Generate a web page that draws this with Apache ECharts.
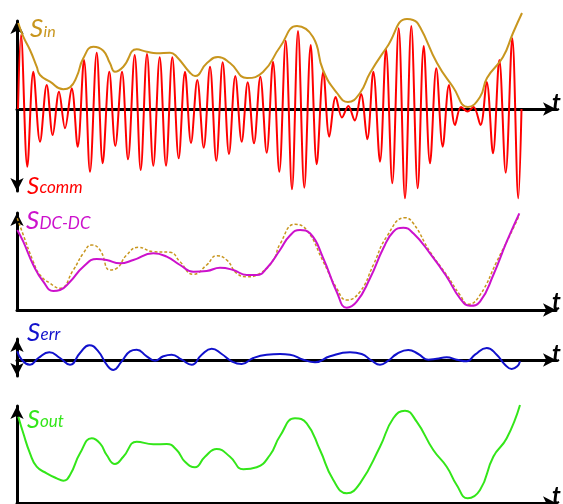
<!DOCTYPE html>
<html>
<head>
<meta charset="utf-8">
<script src="https://cdn.jsdelivr.net/npm/echarts@6/dist/echarts.min.js"></script>
<style>
  html, body { margin: 0; padding: 0; background: #fff; }
  #chart { width: 563px; height: 504px; }
</style>
</head>
<body>
<div id="chart"></div>
<script>
// [t, value] pairs (t runs left to right along each time axis)
const commSignal = [
  [1, 0], [4, 74], [10.3, -57.7], [16.3, 37.3], [23, -32.7], [29.7, 24], [35.7, -26], [42, 17.3],
  [48, -19.3], [54.7, 20.7], [60.7, -37.7], [67, 49], [73, -62.7], [79.7, 56.3], [85.7, -54.3],
  [92.3, 37.3], [98.3, -37], [105, 37.3], [111, -50.3], [117.7, 54], [123.7, -61], [130, 55],
  [136.3, -56.7], [142.7, 51.7], [149, -56.7], [155.3, 51.7], [161.7, -49.3], [168, 37.3],
  [174, -34], [180.3, 29], [186.7, -38.7], [193, 42.3], [199.3, -51.7], [205.7, 46.7], [212, -45],
  [218.3, 33], [224.7, -32.7], [230.7, 26.7], [237, -34.3], [243.3, 32.3], [249.7, -43.7],
  [256, 47.3], [262.3, -62.7], [268.7, 68.3], [275, -80.3], [281, 78], [287.3, -78.7], [293.7, 64],
  [299.7, -55.3], [306.3, 37.3], [312.3, -27.7], [318.7, 12], [325, -8.5], [331.3, 3],
  [337.7, -11.5], [344, 15], [350.3, -30.3], [356.3, 37.3], [363, -52.7], [369, 59.7],
  [375.3, -74.3], [381.7, 80.7], [388, -89.3], [394.3, 83], [400.7, -79.3], [406.7, 63],
  [413, -54.3], [419.3, 40.7], [425.7, -37.7], [432, 24], [438, -16], [444, 2], [450.5, -2.5],
  [456.5, 2], [463.5, -16], [469.7, 27], [476, -44.3], [482.3, 49], [488.7, -63.7], [495.3, 70.7],
  [501.3, -89.3], [504.5, 0]
]

const inEnvelope = [
  [1.3, 86], [6.3, 72.3], [13, 59], [19.7, 42.3], [23, 34], [33, 27.3], [46.3, 19.7], [53, 21.7],
  [59.7, 32.3], [66.3, 50.7], [76.3, 62.3], [86.3, 58.3], [93, 45.7], [98, 37.3], [106.3, 42.3],
  [119.7, 59.7], [129.7, 57.3], [139.7, 55.7], [153, 56.3], [159.7, 52.3], [173, 36.3], [178, 33],
  [190, 46], [201, 52], [213, 46], [230, 31], [246, 37], [263, 62], [280, 83], [296, 72],
  [306, 39], [320, 16], [331, 7], [343, 16], [353, 36], [370, 62], [390, 90], [396, 89],
  [403, 82], [420, 46], [436, 22], [451, 2], [463, 12], [470, 31], [486, 52], [496, 76], [505, 96]
]

const dcdcSignal = [
  [0.3, 80], [6.3, 68.3], [16.3, 45], [26.3, 28.3], [36.3, 19], [43, 20], [53, 28.3], [66.3, 43.3],
  [79.7, 51], [89.7, 50], [103, 46.7], [116.3, 50], [136.3, 56.7], [149.7, 53.3], [163, 45],
  [176.3, 38.3], [189.7, 39], [203, 42.3], [216.3, 40], [229.7, 35], [239.7, 35], [249.7, 41.7],
  [263, 60], [273, 74.5], [283, 80], [293, 76.7], [306.3, 51.7], [319.7, 18.3], [329.7, 2.3],
  [339.7, 8.3], [353, 31.7], [366.3, 61.7], [376.3, 78.3], [386.3, 82.3], [396.3, 76.7],
  [413, 56.7], [429.7, 33.3], [443, 11.7], [453, 4.3], [463, 8.3], [476.3, 35], [489.7, 68.3],
  [502.3, 96.7]
]

const dcdcReference = [
  [0.3, 91.7], [6.3, 75], [16.3, 48.3], [23, 35], [33, 26.7], [43, 21.7], [56.3, 40], [66.3, 56.7],
  [74.7, 65], [83, 60], [93, 40], [99.7, 41.7], [109.7, 55], [121.3, 62.7], [136.3, 58.3],
  [153, 57.7], [163, 48.3], [176.3, 35.7], [189.7, 45], [199.7, 54.3], [209.7, 50], [219.7, 36.7],
  [229.7, 33.3], [243, 36.7], [256.3, 50], [263, 66], [278, 85.7], [289.7, 80], [306.3, 48.3],
  [319.7, 21.7], [329.7, 10], [343, 18.3], [356.3, 45], [369.7, 73.3], [388, 92.3], [396.3, 86.7],
  [413, 58.3], [429.7, 35], [443, 15], [451.3, 5.7], [463, 15], [479.7, 48.3], [496.3, 81.7],
  [502.3, 95]
]

const errSignal = [
  [0.3, 8.7], [4.7, 0.3], [13, -4.7], [21.3, 2], [32.3, 7.7], [43, 2], [53, -4.7], [63, 7],
  [72.3, 14.7], [81.3, 8.7], [89.7, -4.7], [96.3, -10], [104.7, -1.3], [113, 8.7], [119.7, 10.3],
  [129.7, 3.7], [138, -0.7], [146.3, 3.7], [154.7, 5.3], [164.7, 0.3], [174.7, -4.7], [184.7, 5.3],
  [194.7, 11.3], [204.7, 6], [214.7, -1.3], [224.7, -4], [236.3, 2], [249.7, 5.3], [263, 6],
  [273, 5.3], [286.3, 0.3], [298, -2.3], [313, 3.7], [333, 7.7], [344.7, 6], [354.7, -0.7],
  [363, -4.7], [371.3, -0.7], [379.7, 6], [391.3, 10], [401.3, 6], [411.3, 0.3], [419.7, 1.3],
  [429.7, 2.7], [439.7, 0.3], [449.7, -1.3], [458, 5.3], [469.7, 12], [479.7, 5.3], [488, -4.7],
  [494.7, -9], [500.3, -6.3], [503, -1.3]
]

const outSignal = [
  [1.3, 86.3], [6.3, 69.7], [13, 49.7], [19.7, 36.3], [29.7, 29.7], [39.7, 24.7], [46.3, 22.3],
  [53, 28], [63, 49.7], [74.7, 64.7], [83, 59.7], [89.7, 48], [98, 39], [106.3, 46.3], [119.7, 61.3],
  [136.3, 58.7], [149.7, 59], [159.7, 53], [168, 41.3], [178, 35.7], [188, 46.3], [199.7, 54],
  [213, 46.3], [226.3, 33.7], [239.7, 35.7], [253, 48], [263, 67], [278, 84.7], [289.7, 79.7],
  [303, 53], [316.3, 23], [329.7, 9.7], [343, 19.7], [363, 56.3], [376.3, 84.7], [388, 92.3],
  [399.7, 81.3], [416.3, 53], [429.7, 36.3], [439.7, 18], [450.7, 4.7], [463, 13], [476.3, 46.3],
  [489.7, 64.7], [503, 98]
]

// panel ranges: [yMin, yMax]
const panelRanges = [[-82, 88], [0, 97], [-16, 21], [0, 97]]

const GOLD = '#c8961e'
const labelFont = 'Lato, "Open Sans", sans-serif'

const chart = echarts.init(document.getElementById('chart'), null, { renderer: 'canvas' })

const grids = [
  { left: 17, right: 7, top: 21, height: 170 },
  { left: 17, right: 7, top: 213, height: 97 },
  { left: 17, right: 7, top: 339, height: 37 },
  { left: 17, right: 7, top: 406, height: 97 }
]

const axisLine = (symbol) => ({
  show: true,
  onZero: true,
  symbol: symbol,
  symbolSize: [10, 13],
  lineStyle: { color: '#000', width: 3 }
})

const xAxes = grids.map((g, i) => ({
  type: 'value',
  gridIndex: i,
  min: 0,
  max: 539,
  axisLine: axisLine(['none', 'arrow']),
  axisTick: { show: false },
  axisLabel: { show: false },
  splitLine: { show: false }
}))

const yAxes = grids.map((g, i) => ({
  type: 'value',
  gridIndex: i,
  min: panelRanges[i][0],
  max: panelRanges[i][1],
  axisLine: axisLine(i === 0 || i === 2 ? ['arrow', 'arrow'] : ['none', 'arrow']),
  axisTick: { show: false },
  axisLabel: { show: false },
  splitLine: { show: false }
}))

const line = (data, idx, color, width, smooth, extra) => Object.assign({
  type: 'line',
  xAxisIndex: idx,
  yAxisIndex: idx,
  data: data,
  showSymbol: false,
  smooth: smooth,
  clip: false,
  lineStyle: { color: color, width: width }
}, extra || {})

// S + subscript labels
const label = (x, baseline, main, sub, color, mainSize, subSize) => [
  {
    type: 'text', x: x, y: baseline - mainSize * 0.3,
    style: { text: main, fill: color, font: 'italic ' + mainSize + 'px ' + labelFont, textAlign: 'left', textVerticalAlign: 'middle' }
  },
  {
    type: 'text', x: x + mainSize * 0.52, y: baseline - subSize * 0.3,
    style: { text: sub, fill: color, font: 'italic ' + subSize + 'px ' + labelFont, textAlign: 'left', textVerticalAlign: 'middle' }
  }
]

const tLabel = (baseline) => ({
  type: 'text', x: 552, y: baseline - 24 * 0.3,
  style: { text: 't', fill: '#000', font: 'italic bold 24px ' + labelFont, textAlign: 'left', textVerticalAlign: 'middle' }
})

const option = {
  animation: false,
  backgroundColor: '#fff',
  grid: grids,
  xAxis: xAxes,
  yAxis: yAxes,
  series: [
    line(commSignal, 0, '#ff0000', 2, 0.35),
    line(inEnvelope, 0, GOLD, 2, 0.5),
    line(dcdcReference, 1, GOLD, 1.5, 0.5, { lineStyle: { color: GOLD, width: 1.5, type: [3, 2] } }),
    line(dcdcSignal, 1, '#cc11cc', 2, 0.5),
    line(errSignal, 2, '#1111cc', 2, 0.5),
    line(outSignal, 3, '#33e619', 2, 0.5)
  ],
  graphic: [].concat(
    label(30, 36.5, 'S', 'in', GOLD, 26, 16),
    label(27, 193, 'S', 'comm', '#ff0000', 24, 17),
    label(26, 228.5, 'S', 'DC-DC', '#cc11cc', 26, 17),
    label(27, 340, 'S', 'err', '#1111cc', 26, 17),
    label(27, 427, 'S', 'out', '#33e619', 25, 17),
    [tLabel(110), tLabel(309), tLabel(361), tLabel(503)]
  )
}

chart.setOption(option)
</script>
</body>
</html>
